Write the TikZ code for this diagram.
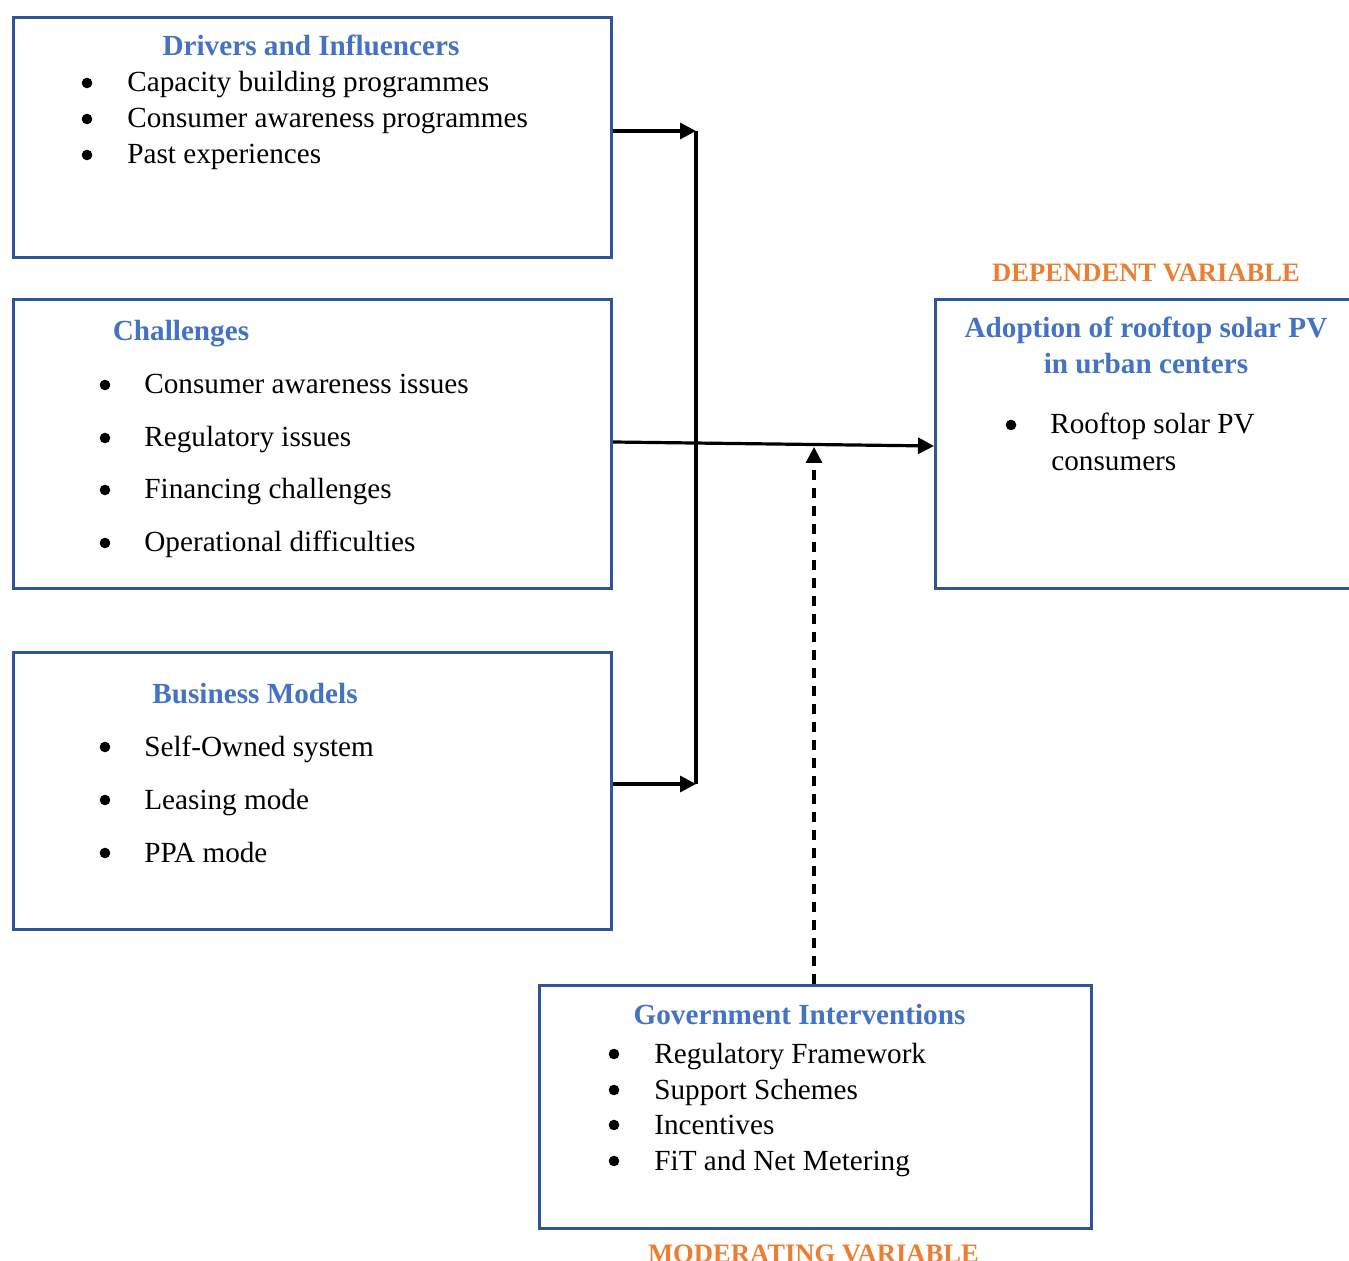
\documentclass[tikz,border=0pt]{standalone}
\usepackage{fontspec}
\setmainfont{Liberation Serif}
\usetikzlibrary{arrows.meta}
\definecolor{ttlblue}{RGB}{68,114,196}
\definecolor{boxblue}{RGB}{47,85,151}
\definecolor{varorange}{RGB}{237,125,49}
\newcommand\fs{\fontsize{14.6}{17.5}\selectfont}
\begin{document}
\begin{tikzpicture}[x=0.5pt,y=-0.5pt,
 box/.style={draw=boxblue,line width=1.5pt,rectangle,anchor=north west,inner sep=0pt},
 ttl/.style={font=\fs\bfseries,text=ttlblue,anchor=base,inner sep=0pt},
 itm/.style={font=\fs,anchor=base west,inner sep=0pt},
 bul/.style={circle,fill=black,inner sep=0pt,minimum size=5.3pt},
 var/.style={font=\fontsize{13.3}{16}\selectfont\bfseries,text=varorange,anchor=base,inner sep=0pt},
 arr/.style={line width=1.6pt,-{Triangle[length=8pt,width=8pt]}},
 ln/.style={line width=1.6pt},
 dsh/.style={line width=1.6pt,dash pattern=on 5pt off 4pt,-{Triangle[length=8pt,width=8pt]}}]
\useasboundingbox (0,0) rectangle (1349,1261);
\clip (0,0) rectangle (1349,1261);
% boxes
\node[box,minimum width=299pt,minimum height=120pt] (b1) at (12,16) {};
\node[box,minimum width=299pt,minimum height=144.5pt] (b2) at (12,298) {};
\node[box,minimum width=299pt,minimum height=138.5pt] (b3) at (12,651) {};
\node[box,minimum width=215pt,minimum height=144.5pt] (dep) at (934,298) {};
\node[box,minimum width=276pt,minimum height=121.5pt] (gov) at (538,984) {};
% box 1
\node[ttl] (t1) at (311,56) {Drivers and Influencers};
\node[bul] (b1a) at (87,83) {}; \node[itm] (i1a) at (127,92) {Capacity building programmes};
\node[bul] (b1b) at (87,119) {}; \node[itm] (i1b) at (127,128) {Consumer awareness programmes};
\node[bul] (b1c) at (87,155) {}; \node[itm] (i1c) at (127,164) {Past experiences};
% box 2
\node[ttl] (t2) at (181,341) {Challenges};
\node[bul] (b2a) at (105,385) {}; \node[itm] (i2a) at (144,394) {Consumer awareness issues};
\node[bul] (b2b) at (105,438) {}; \node[itm] (i2b) at (144,447) {Regulatory issues};
\node[bul] (b2c) at (105,490) {}; \node[itm] (i2c) at (144,499) {Financing challenges};
\node[bul] (b2d) at (105,543) {}; \node[itm] (i2d) at (144,552) {Operational difficulties};
% box 3
\node[ttl] (t3) at (255,703) {Business Models};
\node[bul] (b3a) at (105,747) {}; \node[itm] (i3a) at (144,756) {Self-Owned system};
\node[bul] (b3b) at (105,800) {}; \node[itm] (i3b) at (144,809) {Leasing mode};
\node[bul] (b3c) at (105,853) {}; \node[itm] (i3c) at (144,862) {PPA mode};
% dependent
\node[var] (vdep) at (1146,282) {DEPENDENT VARIABLE};
\node[ttl] (t4a) at (1146,338) {Adoption of rooftop solar PV};
\node[ttl] (t4b) at (1146,374) {in urban centers};
\node[bul] (b4a) at (1011,425) {}; \node[itm] (i4a) at (1050,434) {Rooftop solar PV};
\node[itm] (i4b) at (1051,471) {consumers};
% government
\node[ttl] (t5) at (799.5,1024) {Government Interventions};
\node[bul] (b5a) at (614,1054) {}; \node[itm] (i5a) at (654,1063) {Regulatory Framework};
\node[bul] (b5b) at (614,1090) {}; \node[itm] (i5b) at (654,1099) {Support Schemes};
\node[bul] (b5c) at (614,1125) {}; \node[itm] (i5c) at (654,1134) {Incentives};
\node[bul] (b5d) at (614,1161) {}; \node[itm] (i5d) at (654,1170) {FiT and Net Metering};
\node[var] (vmod) at (813.5,1262) {MODERATING VARIABLE};
% connectors
\coordinate (j1) at (696,131);
\coordinate (j2) at (696,784);
\coordinate (s2) at (610,442);
\coordinate (e2) at (934,446);
\coordinate (m) at (814,447);
\draw[arr] (b1.east |- j1) -- (j1);
\draw[arr] (b3.east |- j2) -- (j2);
\draw[ln] (j1) -- (j2);
\draw[arr] (b2.east |- s2) -- (dep.west |- e2);
\draw[dsh] (gov.north -| m) -- (m);
\end{tikzpicture}
\end{document}
